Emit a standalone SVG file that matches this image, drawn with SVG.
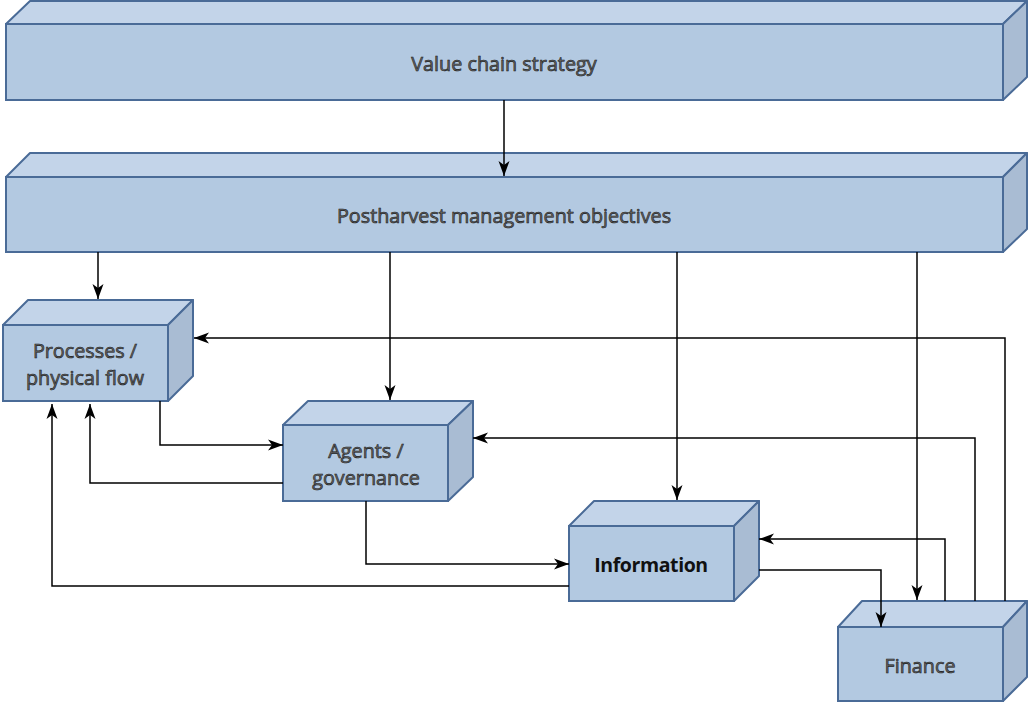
<svg xmlns="http://www.w3.org/2000/svg" width="1028" height="702" viewBox="0 0 1028 702">
<style>
.front{fill:#B3C9E1;stroke:#4A6B97;stroke-width:2}
.top{fill:#C3D4E9;stroke:#4A6B97;stroke-width:2;stroke-linejoin:round}
.side{fill:#A9BCD3;stroke:#4A6B97;stroke-width:2;stroke-linejoin:round}
.lbl{font-family:"Open Sans","Noto Sans","Liberation Sans",sans-serif;font-size:19.8px;fill:#666;stroke:#1a1a1a;stroke-width:0.6;text-anchor:middle}
.bold{font-family:"Open Sans","Noto Sans","Liberation Sans",sans-serif;font-size:19.5px;font-weight:bold;letter-spacing:-0.4px;fill:#111;text-anchor:middle}
.conn{fill:none;stroke:#000;stroke-width:1.5}
</style>
<defs>
<marker id="arr" markerUnits="userSpaceOnUse" markerWidth="16" markerHeight="12" refX="15" refY="6" orient="auto">
<path d="M0,0.5 L15,6 L0,11.5 L4,6 Z" fill="#000"/>
</marker>
</defs>
<rect width="1028" height="702" fill="#fff"/>
<g id="value-chain-strategy">
<polygon class="top" points="6,24 30,1 1027,1 1003,24"/>
<polygon class="side" points="1003,24 1027,1 1027,77 1003,100"/>
<rect class="front" x="6" y="24" width="997" height="76"/>
<text class="lbl" x="504" y="71">Value chain strategy</text>
</g>
<g id="postharvest-objectives">
<polygon class="top" points="6,177 30,153 1027,153 1003,177"/>
<polygon class="side" points="1003,177 1027,153 1027,229 1003,252"/>
<rect class="front" x="6" y="177" width="997" height="75"/>
<text class="lbl" x="504" y="223">Postharvest management objectives</text>
</g>
<g id="processes">
<polygon class="top" points="3,325 28,300 193,300 168,325"/>
<polygon class="side" points="168,325 193,300 193,376 168,401"/>
<rect class="front" x="3" y="325" width="165" height="76"/>
<text class="lbl" x="85" y="358">Processes /</text>
<text class="lbl" x="85" y="385">physical flow</text>
</g>
<g id="agents">
<polygon class="top" points="283,425 308,401 473,401 448,425"/>
<polygon class="side" points="448,425 473,401 473,477 448,501"/>
<rect class="front" x="283" y="425" width="165" height="76"/>
<text class="lbl" x="366" y="458">Agents /</text>
<text class="lbl" x="366" y="485">governance</text>
</g>
<g id="information">
<polygon class="top" points="569,526 594,501 759,501 734,526"/>
<polygon class="side" points="734,526 759,501 759,576 734,601"/>
<rect class="front" x="569" y="526" width="165" height="75"/>
<text class="bold" x="651" y="572">Information</text>
</g>
<g id="finance">
<polygon class="top" points="838,627 862,601 1027,601 1003,627"/>
<polygon class="side" points="1003,627 1027,601 1027,677 1003,701"/>
<rect class="front" x="838" y="627" width="165" height="74"/>
<text class="lbl" x="920" y="673">Finance</text>
</g>
<g id="connectors">
<path class="conn" marker-end="url(#arr)" d="M504,100 L504,176"/>
<path class="conn" marker-end="url(#arr)" d="M98,252 L98,299"/>
<path class="conn" marker-end="url(#arr)" d="M390,252 L390,400"/>
<path class="conn" marker-end="url(#arr)" d="M677,252 L677,500"/>
<path class="conn" marker-end="url(#arr)" d="M917,252 L917,600"/>
<path class="conn" marker-end="url(#arr)" d="M160,401 L160,445 L283,445"/>
<path class="conn" marker-end="url(#arr)" d="M283,483 L90,483 L90,404"/>
<path class="conn" marker-end="url(#arr)" d="M366,501 L366,564 L569,564"/>
<path class="conn" marker-end="url(#arr)" d="M569,586 L52,586 L52,404"/>
<path class="conn" marker-end="url(#arr)" d="M759,570 L881,570 L881,627"/>
<path class="conn" marker-end="url(#arr)" d="M945,601 L945,539 L759,539"/>
<path class="conn" marker-end="url(#arr)" d="M975,601 L975,438 L473,438"/>
<path class="conn" marker-end="url(#arr)" d="M1005,601 L1005,338 L194,338"/>
</g>
</svg>
